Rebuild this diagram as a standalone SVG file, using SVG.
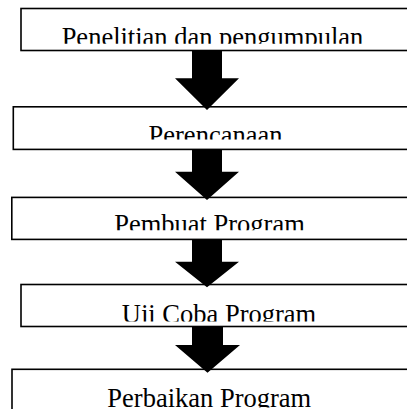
<svg xmlns="http://www.w3.org/2000/svg" width="407" height="409" viewBox="0 0 407 409">
<style>
.box{fill:#fff;stroke:#000;stroke-width:1.6}
.lbl{font-family:"Liberation Serif","Times New Roman",serif;font-size:26.5px;fill:#000;text-anchor:middle}
.arr{fill:#000;stroke:none}
</style>
<defs>
<clipPath id="c1"><rect x="0" y="0" width="407" height="43.8"/></clipPath>
<clipPath id="c2"><rect x="0" y="100" width="407" height="39.4"/></clipPath>
<clipPath id="c3"><rect x="0" y="190" width="407" height="40.2"/></clipPath>
<clipPath id="c4"><rect x="0" y="280" width="407" height="41.5"/></clipPath>
<clipPath id="c5"><rect x="0" y="360" width="407" height="47.6"/></clipPath>
</defs>
<rect width="407" height="409" fill="#fff"/>
<g id="n1">
<rect class="box" x="21" y="8.5" width="400" height="42"/>
<text class="lbl" x="212.5" y="45.8" clip-path="url(#c1)">Penelitian dan pengumpulan</text>
</g>
<g id="n2">
<rect class="box" x="13.3" y="106.8" width="410" height="42.6"/>
<text class="lbl" x="215.5" y="143.5" clip-path="url(#c2)">Perencanaan</text>
</g>
<g id="n3">
<rect class="box" x="11.8" y="197.4" width="410" height="42"/>
<text class="lbl" x="209.5" y="232.5" clip-path="url(#c3)">Pembuat Program</text>
</g>
<g id="n4">
<rect class="box" x="21" y="284.5" width="400" height="42"/>
<text class="lbl" x="219" y="322.5" clip-path="url(#c4)">Uji Coba Program</text>
</g>
<g id="n5">
<rect class="box" x="12" y="369.3" width="410" height="60"/>
<text class="lbl" x="209.3" y="406.5" clip-path="url(#c5)">Perbaikan Program</text>
</g>
<g id="connectors">
<polygon class="arr" points="192,50.5 222,50.5 222,78.3 239,78.3 207,110 175,78.3 192,78.3"/>
<polygon class="arr" points="192,149.4 222,149.4 222,171.7 239,171.7 207,200 175,171.7 192,171.7"/>
<polygon class="arr" points="192,239.4 222,239.4 222,261.7 239,261.7 207,287.3 175,261.7 192,261.7"/>
<polygon class="arr" points="192,326.5 223,326.5 223,345 240,345 207.5,372.7 175,345 192,345"/>
</g>
</svg>
